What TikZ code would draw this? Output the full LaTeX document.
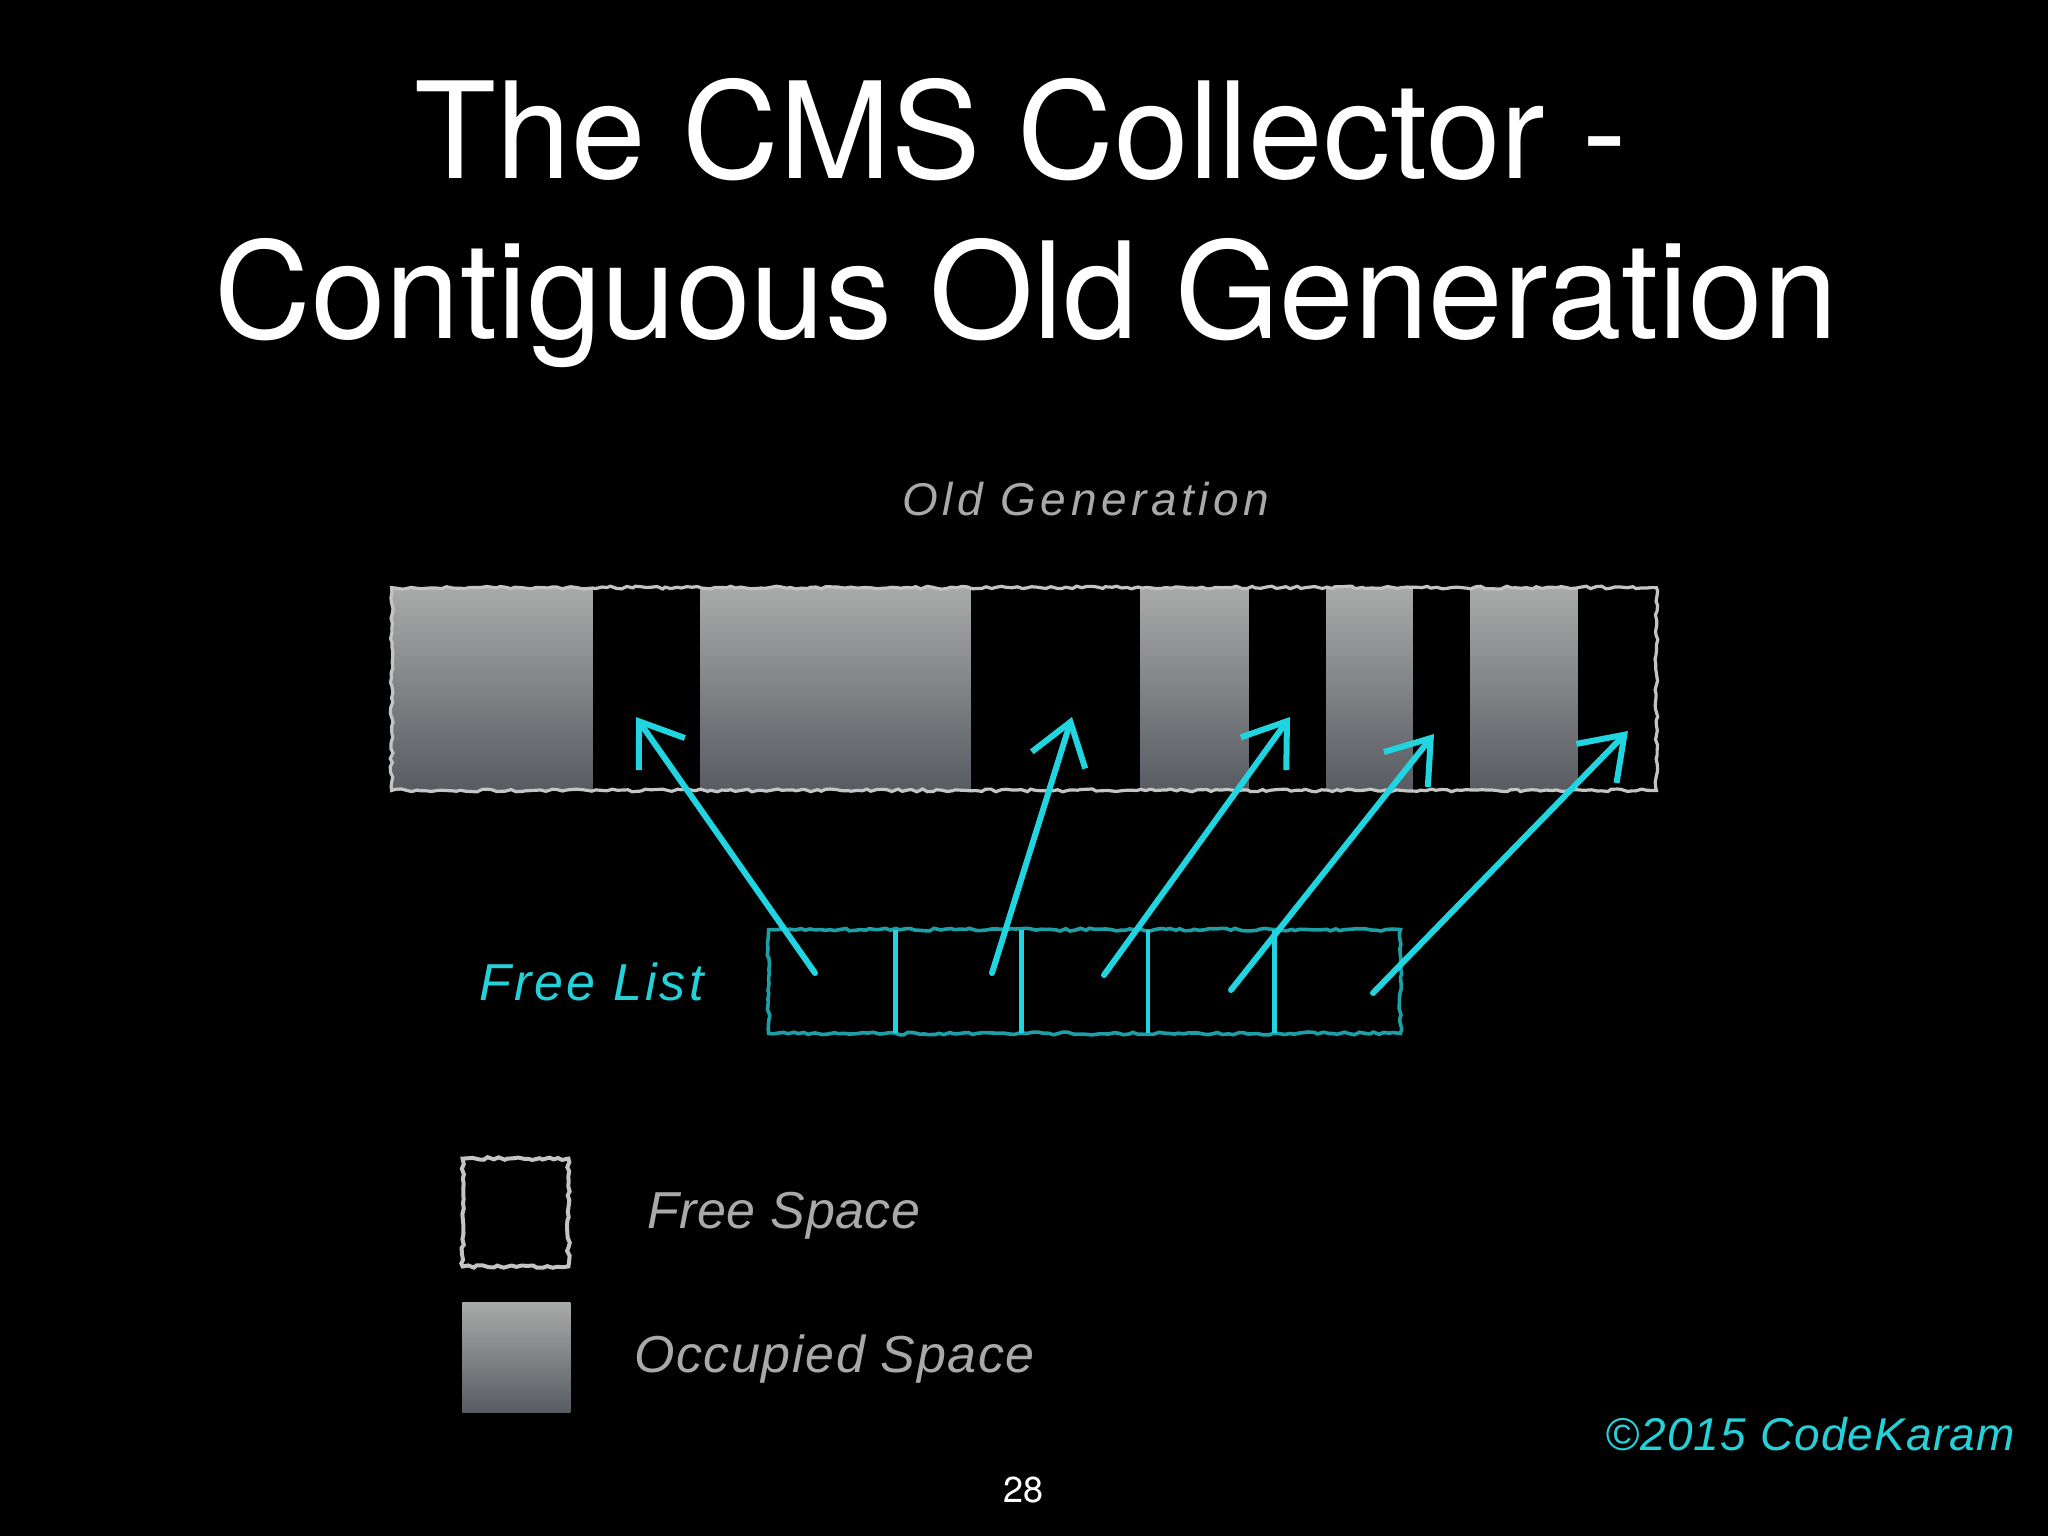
\documentclass[tikz,border=0pt]{standalone}
\usepackage{fontspec}
\setmainfont{TeX Gyre Heros}
\newfontfamily\hand{Liberation Sans}
\usetikzlibrary{arrows.meta,decorations.pathmorphing}
\definecolor{occtop}{HTML}{A8AAA9}
\definecolor{occbot}{HTML}{585B61}
\definecolor{bordergray}{HTML}{C4C4C4}
\definecolor{handgray}{HTML}{A9A9A9}
\definecolor{handcyan}{HTML}{25D0D8}
\definecolor{arrowcyan}{HTML}{20D5E0}
\definecolor{tealbox}{HTML}{1C9FA6}
\begin{document}
\begin{tikzpicture}[x=0.5pt,y=-0.5pt,
  txt/.style={inner sep=0pt, anchor=base west},
  titletxt/.style={inner sep=0pt, anchor=base, text=white, font=\fontsize{67}{80}\selectfont},
  handtxt/.style={txt, font=\hand\itshape},
  occ/.style={rectangle, inner sep=0pt, anchor=north west, top color=occtop, bottom color=occbot, draw=none, minimum height=101pt},
  rough/.style={decorate, decoration={random steps, segment length=2.5pt, amplitude=0.7pt}},
  memborder/.style={draw=bordergray, line width=1.6pt, rough},
  cell/.style={rectangle, inner sep=0pt, minimum width=63.1pt, minimum height=51.5pt},
  flbox/.style={draw=tealbox, line width=1.8pt, rough},
  fldiv/.style={draw=arrowcyan, line width=2.4pt},
  flarrow/.style={draw=arrowcyan, line width=3pt, line cap=round, -{Straight Barb[length=20pt,width=28pt]}}
]
\pgfmathsetseed{7}
\fill[black] (0,0) rectangle (2048,1536);
\useasboundingbox (0,0) rectangle (2048,1536);

% title
\node[titletxt] (title1) at (1021,178) {The CMS Collector -};
\node[titletxt] (title2) at (1026,338) {Contiguous Old Generation};

% label
\node[handtxt, text=handgray, font=\hand\itshape\fontsize{23}{28}\selectfont\addfontfeature{LetterSpace=10}] (oglabel) at (902,515) {Old Generation};

% old generation strip
\node[occ, minimum width=100pt] (occ1) at (392,588) {};
\node[occ, minimum width=135pt] (occ2) at (700,588) {};
\node[occ, minimum width=54pt] (occ3) at (1140,588) {};
\node[occ, minimum width=43pt] (occ4) at (1326,588) {};
\node[occ, minimum width=53.5pt] (occ5) at (1470,588) {};
\node[rectangle, inner sep=0pt, minimum width=632pt, minimum height=101pt] (oldgen) at (1024,689) {};
\draw[memborder] (oldgen.north west) rectangle (oldgen.south east);

% free space targets
\coordinate (f1) at (636,717);
\coordinate (f2) at (1072,717);
\coordinate (f3) at (1290,717);
\coordinate (f4) at (1434,734);
\coordinate (f5) at (1628,731);

% free list
\node[handtxt, text=handcyan, font=\hand\itshape\fontsize{26}{30}\selectfont\addfontfeature{LetterSpace=6}] (fllabel) at (479,1000) {Free List};
\node[cell] (cell1) at (832.1,981.5) {};
\node[cell] (cell2) at (958.3,981.5) {};
\node[cell] (cell3) at (1084.5,981.5) {};
\node[cell] (cell4) at (1210.7,981.5) {};
\node[cell] (cell5) at (1336.9,981.5) {};
\draw[flbox] (cell1.north west) rectangle (cell5.south east);
\foreach \i in {1,2,3,4} {
  \draw[fldiv] (cell\i.north east) -- (cell\i.south east);
}
\coordinate (s1) at (815,973);
\coordinate (s2) at (992,973);
\coordinate (s3) at (1104,975);
\coordinate (s4) at (1231,990);
\coordinate (s5) at (1373,993);
\foreach \i in {1,...,5} {
  \draw[flarrow] (s\i) -- (f\i);
}

% legend
\node[rectangle, inner sep=0pt, minimum width=52.5pt, minimum height=53.5pt] (legfree) at (515.5,1212.5) {};
\draw[memborder, line width=2pt] (legfree.north west) rectangle (legfree.south east);
\node[handtxt, text=handgray, font=\hand\itshape\fontsize{26}{30}\selectfont\addfontfeature{LetterSpace=1}] (legfreetxt) at (647,1228) {Free Space};
\node[occ, minimum width=54pt, minimum height=55pt] (legocc) at (462,1302) {};
\node[handtxt, text=handgray, font=\hand\itshape\fontsize{26}{30}\selectfont\addfontfeature{LetterSpace=3}] (legocctxt) at (634,1372) {Occupied Space};

% footer
\node[handtxt, text=handcyan, font=\hand\itshape\fontsize{23}{28}\selectfont\addfontfeature{LetterSpace=2.5}] (copy) at (1605,1450) {©2015 CodeKaram};
\node[inner sep=0pt, anchor=base, text=white, font=\fontsize{18}{22}\selectfont] (page) at (1023,1502) {28};
\end{tikzpicture}
\end{document}
